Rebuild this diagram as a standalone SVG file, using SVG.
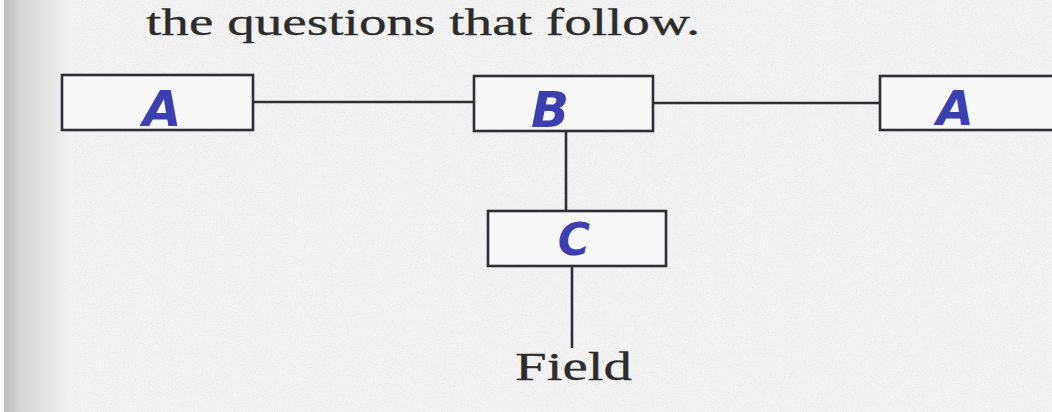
<svg xmlns="http://www.w3.org/2000/svg" width="1052" height="412" viewBox="0 0 1052 412">
  <defs>
    <linearGradient id="edge" x1="0" y1="0" x2="1" y2="0">
      <stop offset="0" stop-color="#f6f6f6"/>
      <stop offset="0.06" stop-color="#bdbdbd"/>
      <stop offset="0.3" stop-color="#d6d6d6"/>
      <stop offset="1" stop-color="#f1f1f1"/>
    </linearGradient>
    <filter id="paper" x="0" y="0" width="100%" height="100%">
      <feTurbulence type="fractalNoise" baseFrequency="0.9" numOctaves="2" seed="3" result="n"/>
      <feColorMatrix in="n" type="matrix" values="0 0 0 0 0.55  0 0 0 0 0.55  0 0 0 0 0.55  0 0 0 -1.4 0.75" result="d"/>
      <feComposite in="d" in2="SourceGraphic" operator="in"/>
    </filter>
  </defs>
  <style>
    .box { fill: #f8f8f8; stroke: #2e2e35; stroke-width: 2.6; }
    .wire { stroke: #2e2e35; stroke-width: 2.6; fill: none; }
    .hand { font-family: "DejaVu Sans", sans-serif; font-weight: bold; font-style: italic; fill: #3b3fb0; text-anchor: middle; }
    .print { font-family: "Liberation Serif", serif; fill: #2c2c2c; stroke: #2c2c2c; stroke-width: 0.3; }
  </style>
  <rect x="0" y="0" width="1052" height="412" fill="#f3f3f3"/>
  <rect x="0" y="0" width="1052" height="412" fill="#f3f3f3" filter="url(#paper)" opacity="0.35"/>
  <rect x="0" y="0" width="70" height="412" fill="url(#edge)"/>
  <rect x="0" y="0" width="4" height="412" fill="#fafafa"/>

  <text class="print" x="146" y="35" font-size="38" textLength="554" lengthAdjust="spacingAndGlyphs">the questions that follow.</text>

  <g id="connectors">
    <line class="wire" x1="253" y1="102" x2="474" y2="102"/>
    <line class="wire" x1="653" y1="103" x2="880" y2="103"/>
    <line class="wire" x1="566" y1="131" x2="566" y2="211"/>
    <line class="wire" x1="572" y1="266" x2="572" y2="348"/>
  </g>

  <g id="node-a-left">
    <rect class="box" x="62" y="75" width="191" height="55"/>
    <text class="hand" x="162" y="126" font-size="50">A</text>
  </g>
  <g id="node-b">
    <rect class="box" x="474" y="76" width="179" height="55"/>
    <text class="hand" x="550" y="127" font-size="50">B</text>
  </g>
  <g id="node-a-right">
    <rect class="box" x="880" y="76" width="180" height="54"/>
    <text class="hand" x="955" y="125" font-size="48">A</text>
  </g>
  <g id="node-c">
    <rect class="box" x="488" y="211" width="178" height="55"/>
    <text class="hand" x="574" y="255" font-size="44">C</text>
  </g>
  <g id="field">
    <text class="print" x="515" y="380" font-size="40" textLength="117" lengthAdjust="spacingAndGlyphs">Field</text>
  </g>
</svg>
